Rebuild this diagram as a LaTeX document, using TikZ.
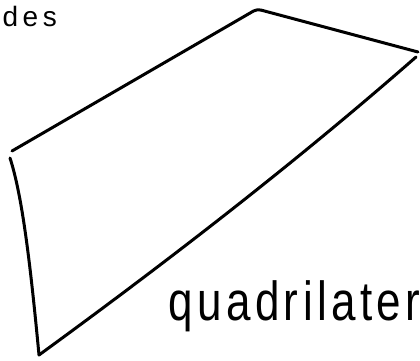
\documentclass[tikz,border=0pt]{standalone}
\usepackage{fontspec}
\setmainfont{Liberation Sans}
\begin{document}
\begin{tikzpicture}[x=1pt, y=1pt, line width=3pt, line cap=round, line join=round,
    schrift/.style={anchor=base west, inner sep=0pt}]

  % Rahmen (fest)
  \useasboundingbox (0,0) rectangle (420,360);
  \clip (0,0) rectangle (420,360);

  % Ecken
  \coordinate (A) at (12,209);
  \coordinate (B) at (257,351);
  \coordinate (C) at (418,308);
  \coordinate (D) at (416,303);
  \coordinate (E) at (39,5);
  \coordinate (F) at (10,202);

  % Viereck, oberer Strich
  \draw[rounded corners=4pt] (A) -- (B) -- (C);

  % Viereck, unterer Strich
  \draw (D) .. controls (295,197) and (168,99) .. (E)
            .. controls (30,100) and (22,165) .. (F);

  % Beschriftung
  \node[schrift, font=\fontsize{28}{28}\selectfont] (des) at (1,334) {d\,e\,s};
  \node[schrift, yscale=1.25, transform shape,
        font=\fontsize{44}{44}\selectfont\addfontfeatures{LetterSpace=10}] (viereck) at (167,40) {quadrilater};

\end{tikzpicture}
\end{document}
